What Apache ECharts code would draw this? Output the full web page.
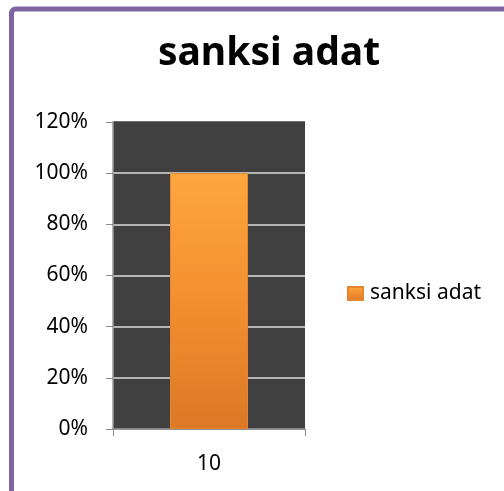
<!DOCTYPE html>
<html>
<head>
<meta charset="utf-8">
<script src="https://cdn.jsdelivr.net/npm/echarts@6/dist/echarts.min.js"></script>
<style>
html,body{margin:0;padding:0;background:#fff;}
#chart{width:504px;height:491px;}
</style>
</head>
<body>
<div id="chart"></div>
<script>
const titleText = 'sanksi adat';
const seriesName = 'sanksi adat';
const categories = ['10'];
const values = [1.0];
const yMin = 0, yMax = 1.2, yStep = 0.2;

const chart = echarts.init(document.getElementById('chart'), null, {renderer: 'canvas'});
const font = 'Noto Sans';
const barGradient = new echarts.graphic.LinearGradient(0, 0, 0, 1, [
  {offset: 0, color: '#FDA73F'},
  {offset: 0.5, color: '#F48F2F'},
  {offset: 1, color: '#DC7826'}
]);
chart.setOption({
  backgroundColor: '#fff',
  animation: false,
  title: {
    text: titleText,
    left: 264, textAlign: 'center', top: 29,
    textStyle: {fontFamily: font, fontWeight: 'bold', fontSize: 39, color: '#000'}
  },
  legend: {
    data: [seriesName],
    left: 342, top: 278,
    icon: 'rect', itemWidth: 15, itemHeight: 13, itemGap: 6,
    textStyle: {fontFamily: font, fontSize: 21, color: '#000', padding: [0, 0, 0, 2]}
  },
  grid: {
    left: 113, right: 199, top: 122, bottom: 62,
    show: true, backgroundColor: '#404040', borderWidth: 0
  },
  xAxis: {
    type: 'category', data: categories,
    axisLine: {show: true, lineStyle: {color: '#8c8c8c', width: 1.5}},
    axisTick: {show: true, length: 7, lineStyle: {color: '#8c8c8c'}},
    axisLabel: {fontFamily: font, fontSize: 21, color: '#000', margin: 25}
  },
  yAxis: {
    type: 'value', min: yMin, max: yMax, interval: yStep,
    axisLine: {show: true, lineStyle: {color: '#9a9a9a', width: 1.5}},
    axisTick: {show: true, length: 7, lineStyle: {color: '#8c8c8c'}},
    axisLabel: {
      fontFamily: font, fontSize: 21, color: '#000', margin: 25,
      formatter: v => Math.round(v * 100) + '%'
    },
    splitLine: {show: true, lineStyle: {color: ['#8c8c8c', '#dcdcdc', '#dcdcdc', '#dcdcdc', '#dcdcdc', '#dcdcdc', '#404040'], width: 1.5}}
  },
  series: [{
    name: seriesName,
    type: 'bar',
    data: values,
    barWidth: 78,
    itemStyle: {color: barGradient, borderColor: '#E5862E', borderWidth: 1}
  }],
  graphic: [{
    type: 'rect', silent: true, z: 100,
    shape: {x: 11.5, y: 9, width: 620, height: 620, r: 4},
    style: {fill: null, stroke: '#8064A2', lineWidth: 5}
  }]
});
</script>
</body>
</html>
